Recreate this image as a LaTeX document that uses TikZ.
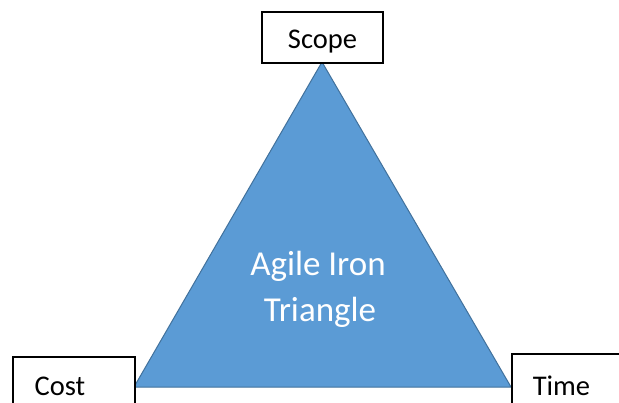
\documentclass[tikz,border=0pt]{standalone}
\usepackage{fontspec}
\setmainfont{Carlito}
\definecolor{triblue}{HTML}{5B9BD5}
\definecolor{triedge}{HTML}{41719C}
\begin{document}
\begin{tikzpicture}[x=1pt,y=1pt,
  box/.style={draw=black,line width=1.5pt,fill=white,rectangle,inner sep=0pt},
  lbl/.style={anchor=base,inner sep=0pt,font=\fontsize{28.5}{34}\selectfont},
  mid/.style={anchor=base,inner sep=0pt,text=white,font=\fontsize{35}{42}\selectfont}]
\useasboundingbox (0,0) rectangle (619,402);
\clip (0,0) rectangle (619,402);
\fill[white] (0,0) rectangle (619,402);
% triangle
\coordinate (apex) at (322,340);
\coordinate (bl) at (134,15);
\coordinate (br) at (511,15);
\filldraw[fill=triblue,draw=triedge,line width=1pt] (apex) -- (bl) -- (br) -- cycle;
% boxes
\node[box,minimum width=121pt,minimum height=51pt] (scopebox) at (322.5,364.5) {};
\node[box,minimum width=122pt,minimum height=60pt] (costbox) at (74,15) {};
\node[box,minimum width=120pt,minimum height=60pt] (timebox) at (572,18) {};
% texts
\node[lbl] (scope) at (322.5,353) {Scope};
\node[lbl] (cost) at (60,7) {Cost};
\node[lbl] (time) at (561.5,7) {Time};
\node[mid] (agile) at (318,126) {Agile Iron};
\node[mid] (tri) at (320,80) {Triangle};
\end{tikzpicture}
\end{document}
